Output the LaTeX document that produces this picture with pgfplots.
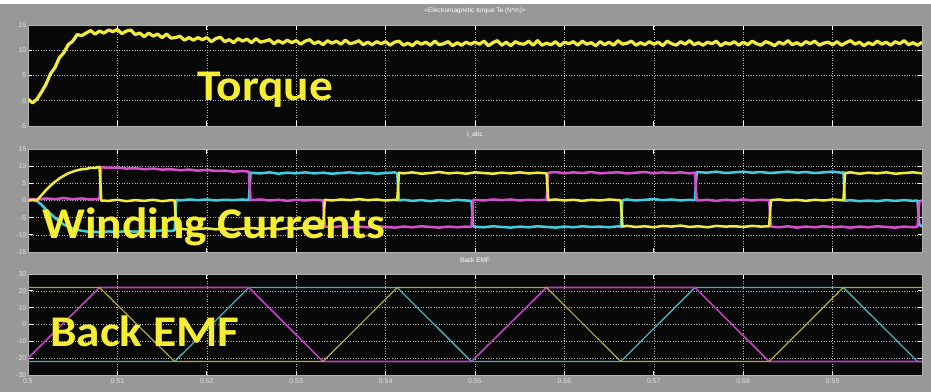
\documentclass[border=0pt]{standalone}
\usepackage{pgfplots}
\pgfplotsset{compat=1.18}
\usepackage{fontspec}
\setmainfont{Liberation Sans}
\newfontfamily\calib{Carlito}

\definecolor{bggray}{RGB}{152,152,152}
\definecolor{scopeblack}{RGB}{8,8,8}
\definecolor{trY}{RGB}{240,236,60}
\definecolor{trM}{RGB}{214,80,206}
\definecolor{trC}{RGB}{64,206,222}
\definecolor{emfY}{RGB}{176,170,70}
\definecolor{emfM}{RGB}{184,64,184}
\definecolor{emfC}{RGB}{72,176,184}
\definecolor{lblY}{RGB}{245,238,50}

\pgfplotsset{
  scopepanel/.style={
    scale only axis, width=894bp, height=101bp,
    anchor=north west,
    xmin=0.5, xmax=0.6,
    axis background/.style={fill=scopeblack},
    axis line style={draw=white!70!black, line width=0.6bp},
    xtick={0.5,0.51,0.52,0.53,0.54,0.55,0.56,0.57,0.58,0.59},
    tick align=inside, major tick length=4.5bp,
    tick style={white, line width=0.9bp},
    grid=major,
    major grid style={white!72!black, line width=0.55bp, dash pattern=on 0.8bp off 1.8bp},
    ticklabel style={font=\fontsize{7}{8}\selectfont, text=white!88!black},
    yticklabel style={inner sep=1.5bp},
    /pgf/number format/assume math mode=true,
    title style={font=\fontsize{6.5}{7}\selectfont, text=white, at={(0.5,1)}, anchor=south, yshift=2bp},
  },
  noxlabels/.style={xticklabels={}},
}

\begin{document}
\begin{tikzpicture}[line join=round, line cap=round]
\useasboundingbox (0,0) rectangle (931bp,-392bp);
\fill[white] (0,0) rectangle (931bp,-4bp);
\fill[bggray] (0,-4bp) rectangle (931bp,-392bp);

% ---------------- electromagnetic torque ----------------
\begin{axis}[scopepanel, noxlabels, at={(28bp,-25bp)},
  ymin=-5, ymax=15, ytick={-5,0,5,10,15},
  title={<Electromagnetic torque Te (N*m)>}]
\addplot[trY, line width=3.2bp] coordinates {
(0.5000,0.3) (0.5005,-0.4) (0.5010,0.3) (0.5015,1.7) (0.5020,3.2) (0.5025,5.3) (0.5030,6.5) (0.5035,8.5) (0.5040,9.5) (0.5045,11.1)
(0.5050,11.8) (0.5055,13.1) (0.5060,12.9) (0.5065,13.4) (0.5070,13.9) (0.5075,13.2) (0.5080,13.8) (0.5085,13.4) (0.5090,14.0) (0.5095,13.7)
(0.5100,14.1) (0.5105,13.3) (0.5110,13.8) (0.5115,14.0) (0.5120,13.1) (0.5125,13.4) (0.5130,12.7) (0.5135,13.4) (0.5140,12.8) (0.5145,13.2)
(0.5150,12.5) (0.5155,13.2) (0.5160,12.4) (0.5165,12.5) (0.5170,12.8) (0.5175,12.0) (0.5180,12.5) (0.5185,12.0) (0.5190,12.5) (0.5195,12.1)
(0.5200,12.5) (0.5205,11.7) (0.5210,12.3) (0.5215,12.6) (0.5220,11.7) (0.5225,12.1) (0.5230,11.5) (0.5235,12.3) (0.5240,11.8) (0.5245,12.2)
(0.5250,11.5) (0.5255,12.3) (0.5260,11.6) (0.5265,11.8) (0.5270,12.1) (0.5275,11.3) (0.5280,11.9) (0.5285,11.4) (0.5290,12.0) (0.5295,11.5)
(0.5300,11.9) (0.5305,11.2) (0.5310,11.8) (0.5315,12.1) (0.5320,11.3) (0.5325,11.7) (0.5330,11.1) (0.5335,11.9) (0.5340,11.4) (0.5345,11.8)
(0.5350,11.2) (0.5355,12.0) (0.5360,11.3) (0.5365,11.5) (0.5370,11.9) (0.5375,11.1) (0.5380,11.6) (0.5385,11.1) (0.5390,11.7) (0.5395,11.3)
(0.5400,11.7) (0.5405,11.0) (0.5410,11.6) (0.5415,11.8) (0.5420,11.0) (0.5425,11.4) (0.5430,10.9) (0.5435,11.7) (0.5440,11.2) (0.5445,11.6)
(0.5450,11.0) (0.5455,11.8) (0.5460,11.1) (0.5465,11.3) (0.5470,11.7) (0.5475,10.9) (0.5480,11.5) (0.5485,11.0) (0.5490,11.6) (0.5495,11.2)
(0.5500,11.6) (0.5505,11.2) (0.5510,11.8) (0.5515,10.9) (0.5520,11.5) (0.5525,11.9) (0.5530,11.0) (0.5535,11.6) (0.5540,10.9) (0.5545,11.7)
(0.5550,11.3) (0.5555,11.2) (0.5560,11.8) (0.5565,11.0) (0.5570,11.9) (0.5575,11.0) (0.5580,11.4) (0.5585,11.1) (0.5590,11.7) (0.5595,10.9)
(0.5600,11.6) (0.5605,11.3) (0.5610,11.7) (0.5615,11.0) (0.5620,11.8) (0.5625,11.2) (0.5630,11.5) (0.5635,10.9) (0.5640,11.7) (0.5645,11.1)
(0.5650,11.6) (0.5655,11.0) (0.5660,11.9) (0.5665,11.2) (0.5670,11.4) (0.5675,11.8) (0.5680,11.0) (0.5685,11.5) (0.5690,11.1) (0.5695,11.7)
(0.5700,11.2) (0.5705,11.6) (0.5710,10.9) (0.5715,11.8) (0.5720,11.3) (0.5725,11.0) (0.5730,11.7) (0.5735,11.2) (0.5740,11.9) (0.5745,11.1)
(0.5750,11.5) (0.5755,11.0) (0.5760,11.6) (0.5765,11.3) (0.5770,11.8) (0.5775,10.9) (0.5780,11.5) (0.5785,11.2) (0.5790,11.7) (0.5795,11.0)
(0.5800,11.6) (0.5805,11.1) (0.5810,11.8) (0.5815,11.3) (0.5820,11.0) (0.5825,11.7) (0.5830,11.4) (0.5835,10.9) (0.5840,11.6) (0.5845,11.2)
(0.5850,11.9) (0.5855,11.1) (0.5860,11.5) (0.5865,11.0) (0.5870,11.7) (0.5875,11.3) (0.5880,11.8) (0.5885,11.0) (0.5890,11.4) (0.5895,11.6)
(0.5900,11.1) (0.5905,11.7) (0.5910,11.0) (0.5915,11.5) (0.5920,11.9) (0.5925,11.2) (0.5930,11.6) (0.5935,10.9) (0.5940,11.5) (0.5945,11.1)
(0.5950,11.8) (0.5955,11.2) (0.5960,11.6) (0.5965,11.0) (0.5970,11.7) (0.5975,11.3) (0.5980,11.9) (0.5985,11.1) (0.5990,11.5) (0.5995,11.0)
(0.6000,11.6)
};
\end{axis}

% ---------------- phase currents ----------------
\begin{axis}[scopepanel, noxlabels, at={(28bp,-149bp)}, height=103bp,
  ymin=-15, ymax=15, ytick={-15,-10,-5,0,5,10,15},
  title={I\_abc}]
% phase c
\addplot[trC, line width=2.5bp] coordinates {
(0.5000,0.0) (0.5005,0.1) (0.5010,-0.1) (0.5015,-1.2) (0.5020,-2.6) (0.5025,-3.8) (0.5030,-5.0) (0.5035,-6.0) (0.5040,-7.0) (0.5045,-7.6)
(0.5050,-8.1) (0.5055,-8.5) (0.5060,-8.8) (0.5065,-9.0) (0.5070,-9.2) (0.5075,-9.1) (0.5080,-9.3) (0.5090,-9.0) (0.5100,-9.2) (0.5110,-8.9)
(0.5120,-9.1) (0.5130,-8.8) (0.5140,-9.0) (0.5150,-8.7) (0.5160,-8.9) (0.5164,-8.7)
(0.5166,0.2) (0.5170,0.0) (0.5180,0.3) (0.5190,0.1) (0.5200,0.3) (0.5210,0.0) (0.5220,0.2) (0.5230,0.1) (0.5240,0.3) (0.5247,0.1)
(0.5249,8.1) (0.5260,7.9) (0.5270,8.2) (0.5280,7.8) (0.5290,8.1) (0.5300,7.9) (0.5310,8.2) (0.5320,7.9) (0.5330,8.1) (0.5340,7.8)
(0.5350,8.0) (0.5360,8.2) (0.5370,7.9) (0.5380,8.1) (0.5390,7.8) (0.5400,8.0) (0.5410,8.2) (0.5413,7.9)
(0.5415,0.0) (0.5420,0.2) (0.5430,-0.1) (0.5440,0.1) (0.5450,-0.2) (0.5460,0.1) (0.5470,-0.1) (0.5480,0.2) (0.5490,0.0) (0.5496,-0.1)
(0.5498,-7.6) (0.5510,-7.8) (0.5520,-7.5) (0.5530,-7.7) (0.5540,-7.9) (0.5550,-7.6) (0.5560,-7.8) (0.5570,-7.5) (0.5580,-7.7) (0.5590,-7.9)
(0.5600,-7.6) (0.5610,-7.8) (0.5620,-7.5) (0.5630,-7.7) (0.5640,-7.6) (0.5650,-7.8) (0.5660,-7.5) (0.5663,-7.7)
(0.5665,0.1) (0.5670,0.3) (0.5680,0.0) (0.5690,0.2) (0.5700,0.4) (0.5710,0.1) (0.5720,0.3) (0.5730,0.0) (0.5740,0.2) (0.5746,0.1)
(0.5748,8.3) (0.5760,8.1) (0.5770,8.4) (0.5780,8.0) (0.5790,8.2) (0.5800,8.4) (0.5810,8.1) (0.5820,8.3) (0.5830,8.0) (0.5840,8.2)
(0.5850,8.4) (0.5860,8.1) (0.5870,8.3) (0.5880,8.0) (0.5890,8.2) (0.5900,8.4) (0.5910,8.1) (0.5912,8.2)
(0.5914,-0.1) (0.5920,0.1) (0.5930,-0.2) (0.5940,0.0) (0.5950,-0.2) (0.5960,0.1) (0.5970,-0.1) (0.5980,0.1) (0.5990,-0.1) (0.5995,0.0)
(0.5997,-7.0) (0.6000,-7.6)
};
% phase b
\addplot[trM, line width=2.5bp] coordinates {
(0.5000,0.5) (0.5010,0.3) (0.5020,0.6) (0.5030,0.4) (0.5040,0.7) (0.5050,0.4) (0.5060,0.6) (0.5070,0.3) (0.5080,0.5)
(0.5082,9.7) (0.5090,9.5) (0.5100,9.6) (0.5110,9.3) (0.5120,9.4) (0.5130,9.1) (0.5140,9.3) (0.5150,9.0) (0.5160,9.1) (0.5170,8.8)
(0.5180,9.0) (0.5190,8.7) (0.5200,8.9) (0.5210,8.6) (0.5220,8.7) (0.5230,8.4) (0.5240,8.6) (0.5247,8.4)
(0.5249,0.1) (0.5260,0.3) (0.5270,0.0) (0.5280,0.2) (0.5290,-0.1) (0.5300,0.2) (0.5310,0.0) (0.5320,0.2) (0.5330,0.0)
(0.5332,-7.6) (0.5340,-7.8) (0.5350,-7.5) (0.5360,-7.9) (0.5370,-7.6) (0.5380,-7.8) (0.5390,-7.5) (0.5400,-7.7) (0.5410,-7.9) (0.5420,-7.6)
(0.5430,-7.8) (0.5440,-7.5) (0.5450,-7.7) (0.5460,-7.9) (0.5470,-7.6) (0.5480,-7.8) (0.5490,-7.6) (0.5496,-7.7)
(0.5498,0.2) (0.5510,0.0) (0.5520,0.3) (0.5530,0.1) (0.5540,0.3) (0.5550,0.0) (0.5560,0.2) (0.5570,0.1) (0.5580,0.2)
(0.5582,8.1) (0.5590,8.3) (0.5600,7.9) (0.5610,8.2) (0.5620,8.0) (0.5630,8.3) (0.5640,7.9) (0.5650,8.1) (0.5660,8.2) (0.5670,7.9)
(0.5680,8.1) (0.5690,8.3) (0.5700,7.9) (0.5710,8.2) (0.5720,8.0) (0.5730,8.2) (0.5740,7.9) (0.5746,8.1)
(0.5748,0.0) (0.5760,0.2) (0.5770,-0.1) (0.5780,0.2) (0.5790,0.0) (0.5800,0.3) (0.5810,0.0) (0.5820,0.2) (0.5829,0.1)
(0.5831,-7.6) (0.5840,-7.8) (0.5850,-7.5) (0.5860,-7.9) (0.5870,-7.6) (0.5880,-7.8) (0.5890,-7.5) (0.5900,-7.8) (0.5910,-7.6) (0.5920,-7.9)
(0.5930,-7.6) (0.5940,-7.8) (0.5950,-7.5) (0.5960,-7.7) (0.5970,-7.9) (0.5980,-7.6) (0.5990,-7.8) (0.5995,-7.6)
(0.5997,-0.5) (0.6000,0.1)
};
% phase a
\addplot[trY, line width=2.5bp] coordinates {
(0.5000,0.0) (0.5005,0.2) (0.5010,0.1) (0.5015,1.5) (0.5020,3.0) (0.5025,4.3) (0.5030,5.4) (0.5035,6.4) (0.5040,7.2) (0.5045,7.9)
(0.5050,8.4) (0.5055,8.8) (0.5060,9.1) (0.5065,9.2) (0.5070,9.5) (0.5075,9.5) (0.5080,9.8)
(0.5082,0.0) (0.5090,-0.1) (0.5100,0.2) (0.5110,-0.2) (0.5120,0.1) (0.5130,-0.1) (0.5140,0.2) (0.5150,-0.2) (0.5160,0.1) (0.5164,0.0)
(0.5166,-8.4) (0.5170,-8.2) (0.5180,-8.5) (0.5190,-8.3) (0.5200,-8.1) (0.5210,-8.4) (0.5220,-8.2) (0.5230,-8.5) (0.5240,-8.2) (0.5250,-8.0)
(0.5260,-8.3) (0.5270,-8.1) (0.5280,-8.4) (0.5290,-8.0) (0.5300,-8.2) (0.5310,-7.9) (0.5320,-8.2) (0.5330,-8.0)
(0.5332,0.2) (0.5340,0.0) (0.5350,0.3) (0.5360,0.1) (0.5370,0.4) (0.5380,0.1) (0.5390,0.3) (0.5400,0.0) (0.5410,0.2) (0.5413,0.1)
(0.5415,8.1) (0.5420,7.9) (0.5430,8.2) (0.5440,7.8) (0.5450,8.0) (0.5460,8.3) (0.5470,7.9) (0.5480,8.1) (0.5490,7.8) (0.5500,8.2)
(0.5510,8.0) (0.5520,7.8) (0.5530,8.1) (0.5540,7.9) (0.5550,8.2) (0.5560,7.9) (0.5570,8.1) (0.5580,7.9)
(0.5582,0.1) (0.5590,0.3) (0.5600,0.0) (0.5610,0.2) (0.5620,-0.1) (0.5630,0.2) (0.5640,0.0) (0.5650,0.3) (0.5660,0.1) (0.5663,0.0)
(0.5665,-7.6) (0.5670,-7.4) (0.5680,-7.7) (0.5690,-7.5) (0.5700,-7.8) (0.5710,-7.4) (0.5720,-7.6) (0.5730,-7.3) (0.5740,-7.7) (0.5750,-7.5)
(0.5760,-7.8) (0.5770,-7.4) (0.5780,-7.6) (0.5790,-7.5) (0.5800,-7.7) (0.5810,-7.4) (0.5820,-7.6) (0.5829,-7.5)
(0.5831,0.1) (0.5840,0.3) (0.5850,0.0) (0.5860,0.2) (0.5870,-0.1) (0.5880,0.2) (0.5890,0.0) (0.5900,0.3) (0.5910,0.1) (0.5912,0.0)
(0.5914,8.0) (0.5920,8.2) (0.5930,7.8) (0.5940,8.1) (0.5950,7.9) (0.5960,8.2) (0.5970,7.8) (0.5980,8.0) (0.5990,8.2) (0.6000,7.9)
};
\end{axis}

% ---------------- back EMF ----------------
\begin{axis}[scopepanel, at={(28bp,-274bp)},
  ymin=-30, ymax=30, ytick={-30,-20,-10,0,10,20,30},
  xticklabels={0.5,0.51,0.52,0.53,0.54,0.55,0.56,0.57,0.58,0.59},
  title={Back EMF}]
\addplot[emfC, line width=1.3bp] coordinates {
(0.5000,-22) (0.5164,-22) (0.5247,22) (0.5413,22) (0.5496,-22) (0.5663,-22) (0.5746,22) (0.5912,22) (0.5995,-22) (0.6000,-22)
};
\addplot[emfM, line width=1.7bp] coordinates {
(0.5000,-20) (0.5080,22) (0.5247,22) (0.5330,-22) (0.5496,-22) (0.5580,22) (0.5746,22) (0.5829,-22) (0.6000,-22)
};
\addplot[emfY, line width=1.2bp] coordinates {
(0.5000,22) (0.5080,22) (0.5164,-22) (0.5330,-22) (0.5413,22) (0.5580,22) (0.5663,-22) (0.5829,-22) (0.5912,22) (0.6000,22)
};
\end{axis}

% annotations
\begin{scope}[every node/.style={anchor=base west, inner sep=0pt, text=lblY, xscale=1.08,
    font=\calib\bfseries\fontsize{44}{44}\selectfont}]
\node at (197bp,-100bp) {Torque};
\node at (42bp,-238bp) {Winding Currents};
\node at (50bp,-346bp) {Back EMF};
\end{scope}
\end{tikzpicture}
\end{document}
